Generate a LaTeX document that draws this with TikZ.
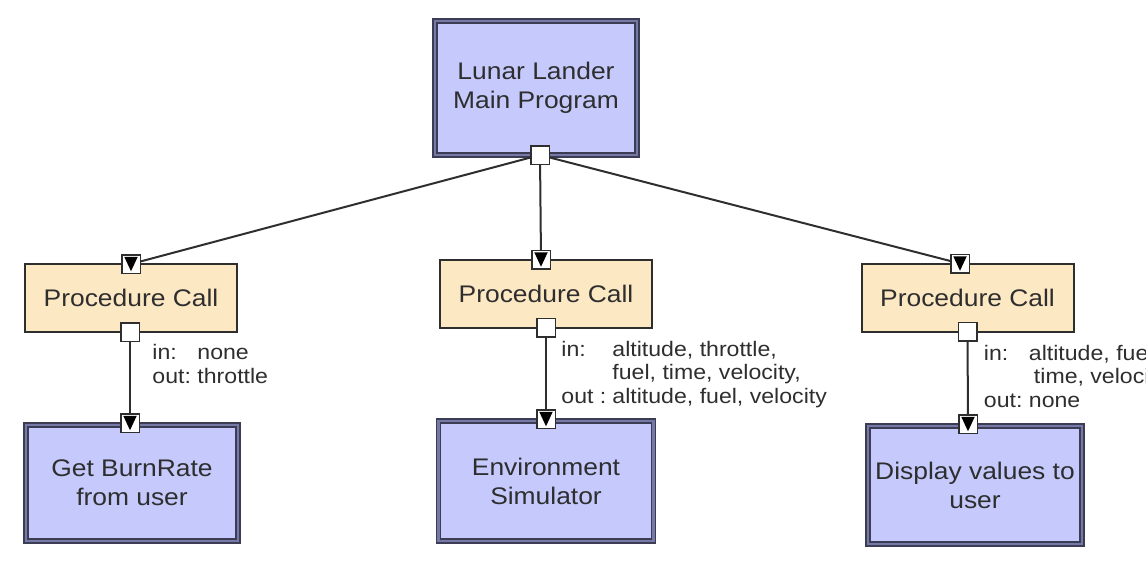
\documentclass[tikz,border=0pt]{standalone}
\usepackage{fontspec}
\newfontfamily\diagfont[FakeStretch=1.1]{Liberation Sans}
\usetikzlibrary{arrows.meta, positioning}
\definecolor{modfill}{HTML}{C5C9FC}
\definecolor{modline}{HTML}{3C3D55}
\definecolor{modband}{HTML}{7479A6}
\definecolor{callfill}{HTML}{FDE8C4}
\definecolor{inkgray}{HTML}{2E2E2E}
\tikzset{
  modbox/.style={draw=modline, double=modband, double distance=2.5pt, line width=1.5pt, fill=modfill,
    align=center, inner sep=0pt, outer sep=0pt, font=\diagfont\fontsize{24}{29}\selectfont, text=inkgray},
  callbox/.style={draw=inkgray, fill=callfill, line width=2pt, minimum width=212pt, minimum height=68pt,
    inner sep=0pt, outer sep=0pt, font=\diagfont\fontsize{24}{29}\selectfont, text=inkgray},
  port/.style={draw=inkgray, fill=white, line width=1.5pt, minimum size=18.5pt, inner sep=0pt, outer sep=0pt},
  inport/.style={port, path picture={\fill[black]
    ([xshift=2.5pt,yshift=-2pt]path picture bounding box.north west) --
    ([xshift=-2.5pt,yshift=-2pt]path picture bounding box.north east) --
    ([yshift=2pt]path picture bounding box.south) -- cycle;}},
  link/.style={draw=inkgray, line width=2pt},
  parms/.style={inner sep=0pt, anchor=north west, align=left,
    font=\diagfont\fontsize{21}{23.5}\selectfont, text=inkgray}
}

\begin{document}
\begin{tikzpicture}[x=1pt, y=1pt]
\useasboundingbox (0,0) rectangle (1146,-560);
\clip (0,0) rectangle (1146,-560);
% modules and calls
\node[modbox, minimum width=202pt, minimum height=134pt] (main) at (536,-88) {Lunar Lander\\Main Program};
\node[callbox, below=109pt of main, xshift=-405pt] (calll) {Procedure Call};
\node[callbox, below=104.5pt of main, xshift=10pt] (callm) {Procedure Call};
\node[callbox, below=108.5pt of main, xshift=431.5pt] (callr) {Procedure Call};
\node[modbox, minimum width=212pt, minimum height=116pt, below=93pt of calll, xshift=1pt] (burn) {Get BurnRate\\from user};
\node[modbox, minimum width=215pt, minimum height=120pt, below=93.5pt of callm] (envsim) {Environment\\Simulator};
\node[modbox, minimum width=214pt, minimum height=118pt, below=94.5pt of callr, xshift=7.5pt] (disp) {Display values to\\user};
% ports
\node[port] (outmain) at ([xshift=4pt]main.south) {};
\node[inport] (inl) at (calll.north) {};
\node[inport] (inm) at ([xshift=-5pt]callm.north) {};
\node[inport] (inr) at ([xshift=-7.5pt]callr.north) {};
\node[port] (outl) at ([xshift=-1pt]calll.south) {};
\node[port] (outm) at (callm.south) {};
\node[port] (outr) at (callr.south) {};
\node[inport] (inburn) at ([xshift=-2pt,yshift=2pt]burn.north) {};
\node[inport] (inenv) at ([yshift=2pt]envsim.north) {};
\node[inport] (indisp) at ([xshift=-7pt,yshift=2pt]disp.north) {};
% links
\draw[link] (outmain) -- (inl);
\draw[link] (outmain) -- (inm);
\draw[link] (outmain) -- (inr);
\draw[link] (outl) -- (inburn);
\draw[link] (outm) -- (inenv);
\draw[link] (outr) -- (indisp);
% parameters
\node[parms] (parml) at ([xshift=13pt,yshift=-2pt]outl.south east)
  {\begin{tabular}{@{}p{45pt}@{}l@{}}in: & none\\ out: & throttle\end{tabular}};
\node[parms] (parmm) at ([xshift=6pt,yshift=-3pt]outm.south east)
  {\begin{tabular}{@{}p{51pt}@{}l@{}}in: & altitude, throttle,\\ & fuel, time, velocity,\\ out : & altitude, fuel, velocity\end{tabular}};
\node[parms] (parmr) at ([xshift=7pt,yshift=-3pt]outr.south east)
  {\begin{tabular}{@{}p{45pt}@{}l@{}}in: & altitude, fuel,\\ & \hspace{5pt}time, velocity\\ out: & none\end{tabular}};
\end{tikzpicture}
\end{document}
